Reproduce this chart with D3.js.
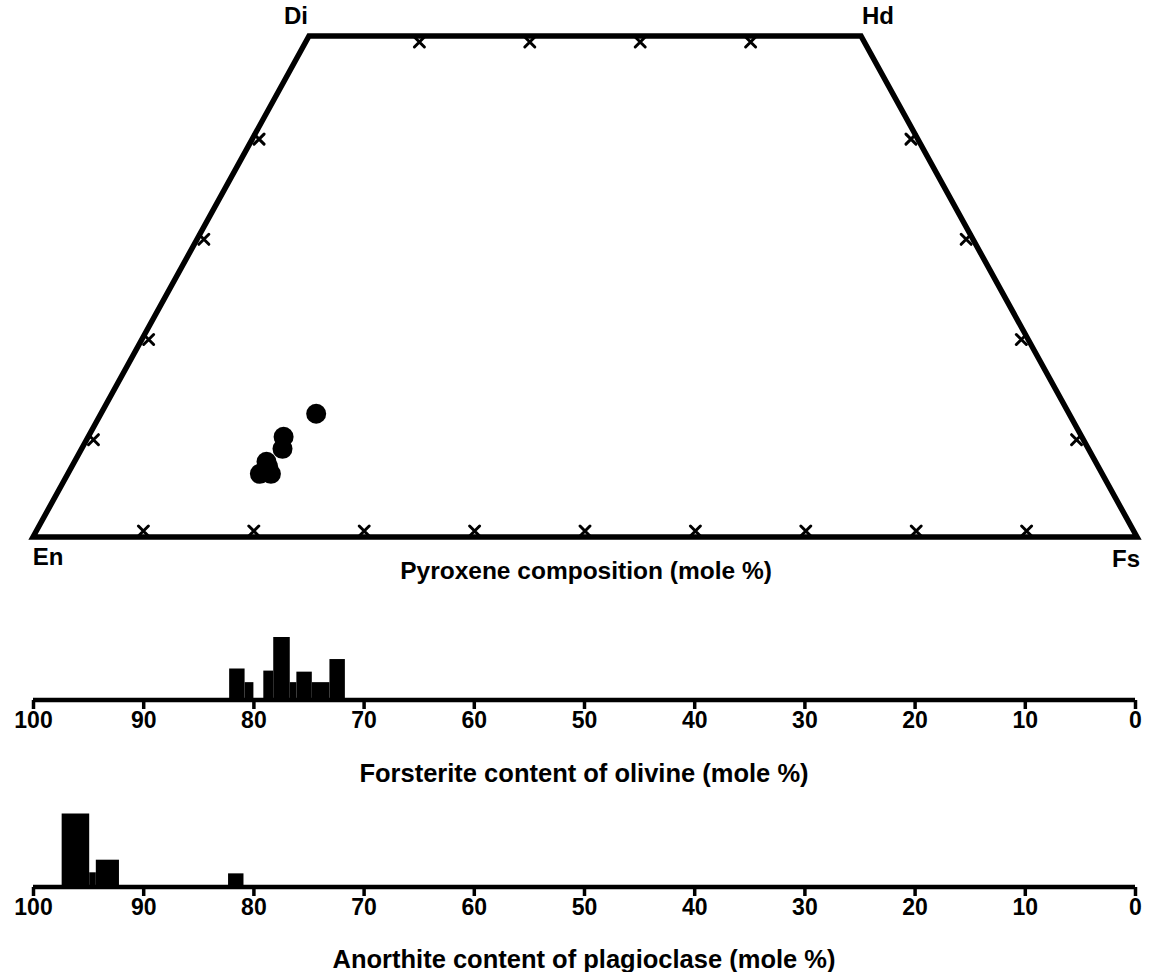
<!DOCTYPE html>
<html>
<head>
<meta charset="utf-8">
<script src="https://cdn.jsdelivr.net/npm/d3@7"></script>
<style>
  body { margin: 0; background: #fff; }
  text { font-family: "Liberation Sans", Arial, sans-serif; font-weight: bold; fill: #000; }
</style>
</head>
<body>
<div id="chart"></div>
<script>
var width = 1151, height = 972;

// pyroxene analyses, mole % (Wo, Fs), En is the rest
var pyxWo = [12.3, 10.0, 8.8, 7.5, 7.0, 6.3, 6.3];
var pyxFs = [19.5, 17.7, 18.2, 17.4, 17.8, 17.4, 18.4];

// ternary tick positions (mole %)
var baseTicks = [10, 20, 30, 40, 50, 60, 70, 80, 90];
var topTicks = [10, 20, 30, 40];
var sideTicks = [10, 20, 30, 40];

// olivine histogram: bin edges (Fo) and heights
var olFrom = [82.2, 80.8, 79.1, 78.2, 76.7, 76.1, 74.7, 73.1];
var olTo   = [80.8, 80.0, 78.2, 76.7, 76.1, 74.7, 73.1, 71.7];
var olCount = [3.0, 1.7, 2.8, 6.0, 1.7, 2.7, 1.7, 3.9];

// plagioclase histogram: bin edges (An) and heights
var plFrom = [97.4, 94.9, 94.3, 82.3];
var plTo   = [94.9, 94.3, 92.2, 80.9];
var plCount = [7.0, 1.4, 2.6, 1.3];

var axisTicks = [100, 90, 80, 70, 60, 50, 40, 30, 20, 10, 0];

var svg = d3.select("#chart").append("svg")
    .attr("width", width)
    .attr("height", height);

// ---- pyroxene quadrilateral ----
var tx = d3.scaleLinear().domain([0, 100]).range([33, 1137]); // Fs + Wo/2
var ty = d3.scaleLinear().domain([0, 50]).range([537, 36]);    // Wo

function pt(wo, fs) { return [tx(fs + wo / 2), ty(wo)]; }

var corners = [pt(0, 0), pt(50, 0), pt(50, 50), pt(0, 100)];
svg.append("path")
    .attr("d", d3.line()(corners) + "Z")
    .attr("fill", "none")
    .attr("stroke", "#000")
    .attr("stroke-width", 5.5)
    .attr("stroke-linejoin", "miter");

// little x marks on the inside of each edge
function tickMark(p, nx, ny) {
    var cx = p[0] + nx * 6, cy = p[1] + ny * 6, s = 5;
    svg.append("path")
        .attr("d", "M" + (cx - s) + "," + (cy - s) + "L" + (cx + s) + "," + (cy + s) +
                   "M" + (cx - s) + "," + (cy + s) + "L" + (cx + s) + "," + (cy - s))
        .attr("stroke", "#000")
        .attr("stroke-width", 3)
        .attr("stroke-linecap", "round");
}
baseTicks.forEach(function(f) { tickMark(pt(0, f), 0, -1); });
topTicks.forEach(function(f) { tickMark(pt(50, f), 0, 1); });
// left side En-Di, inward normal
var ln = [0.876, 0.482];
sideTicks.forEach(function(w) { tickMark(pt(w, 0), ln[0], ln[1]); });
// right side Fs-Hd
sideTicks.forEach(function(w) { tickMark(pt(w, 100 - w), -ln[0], ln[1]); });

svg.selectAll("circle.pyx")
    .data(pyxWo)
    .enter()
    .append("circle")
    .attr("class", "pyx")
    .attr("cx", function(d, i) { return pt(d, pyxFs[i])[0]; })
    .attr("cy", function(d, i) { return pt(d, pyxFs[i])[1]; })
    .attr("r", 10)
    .attr("fill", "#000");

svg.append("text").attr("x", 296).attr("y", 24).attr("font-size", 24).attr("text-anchor", "middle").text("Di");
svg.append("text").attr("x", 878).attr("y", 24).attr("font-size", 24).attr("text-anchor", "middle").text("Hd");
svg.append("text").attr("x", 48).attr("y", 565).attr("font-size", 24).attr("text-anchor", "middle").text("En");
svg.append("text").attr("x", 1126).attr("y", 567).attr("font-size", 24).attr("text-anchor", "middle").text("Fs");
svg.append("text").attr("x", 586).attr("y", 579).attr("font-size", 24.5).attr("text-anchor", "middle")
    .text("Pyroxene composition (mole %)");

// ---- histograms ----
var hx = d3.scaleLinear().domain([100, 0]).range([33, 1135]);
var hy = d3.scaleLinear().domain([0, 7]).range([0, 73.5]);

function histogram(base, from, to, counts, title, titleY) {
    var g = svg.append("g");
    g.selectAll("rect")
        .data(counts)
        .enter()
        .append("rect")
        .attr("x", function(d, i) { return hx(from[i]); })
        .attr("width", function(d, i) { return hx(to[i]) - hx(from[i]); })
        .attr("y", function(d) { return base - hy(d); })
        .attr("height", function(d) { return hy(d); })
        .attr("fill", "#000");

    var axis = d3.axisBottom(hx).tickValues(axisTicks).tickSize(9).tickPadding(3)
        .tickFormat(d3.format("d"));
    var ax = svg.append("g").attr("transform", "translate(0," + base + ")").call(axis);
    ax.select(".domain").attr("stroke-width", 4.5).attr("d", "M" + hx(100) + ",0H" + hx(0));
    ax.selectAll(".tick line").attr("stroke-width", 3.5);
    ax.selectAll(".tick text")
        .attr("font-size", 23)
        .attr("font-family", "Liberation Sans, Arial, sans-serif")
        .attr("font-weight", "bold");

    svg.append("text").attr("x", 584).attr("y", titleY).attr("font-size", 25.5)
        .attr("text-anchor", "middle").text(title);
}

histogram(700, olFrom, olTo, olCount, "Forsterite content of olivine (mole %)", 782);
histogram(887, plFrom, plTo, plCount, "Anorthite content of plagioclase (mole %)", 968);
</script>
</body>
</html>
